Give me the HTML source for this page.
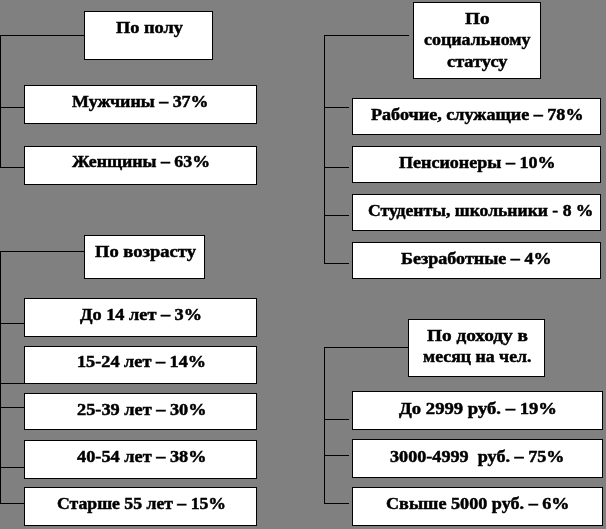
<!DOCTYPE html>
<html><head><meta charset="utf-8"><title>Diagram</title>
<style>
html,body{margin:0;padding:0;}
body{width:606px;height:529px;background:#808080;position:relative;overflow:hidden;font-family:"Liberation Serif",serif;font-weight:bold;font-size:16px;color:#000;}
.b{position:absolute;background:#fff;border:1px solid #000;box-sizing:border-box;}
.l{position:absolute;background:#000;}
.t{position:absolute;white-space:pre;line-height:20px;height:20px;transform-origin:0 15.4px;-webkit-text-stroke:0.45px #000;filter:blur(0.4px);}
</style></head><body>
<div class="l" style="left:0px;top:35px;width:85px;height:1px"></div>
<div class="l" style="left:0px;top:35px;width:1px;height:133px"></div>
<div class="l" style="left:0px;top:107px;width:25px;height:1px"></div>
<div class="l" style="left:0px;top:167px;width:25px;height:1px"></div>
<div class="l" style="left:0px;top:251px;width:85px;height:1px"></div>
<div class="l" style="left:0px;top:251px;width:1px;height:253px"></div>
<div class="l" style="left:0px;top:323px;width:25px;height:1px"></div>
<div class="l" style="left:0px;top:383px;width:25px;height:1px"></div>
<div class="l" style="left:0px;top:407px;width:25px;height:1px"></div>
<div class="l" style="left:0px;top:467px;width:25px;height:1px"></div>
<div class="l" style="left:0px;top:503px;width:25px;height:1px"></div>
<div class="l" style="left:324px;top:35px;width:85px;height:1px"></div>
<div class="l" style="left:324px;top:35px;width:1px;height:229px"></div>
<div class="l" style="left:324px;top:107px;width:25px;height:1px"></div>
<div class="l" style="left:324px;top:167px;width:25px;height:1px"></div>
<div class="l" style="left:324px;top:215px;width:25px;height:1px"></div>
<div class="l" style="left:324px;top:263px;width:25px;height:1px"></div>
<div class="l" style="left:324px;top:347px;width:85px;height:1px"></div>
<div class="l" style="left:324px;top:347px;width:1px;height:157px"></div>
<div class="l" style="left:324px;top:419px;width:25px;height:1px"></div>
<div class="l" style="left:324px;top:455px;width:25px;height:1px"></div>
<div class="l" style="left:324px;top:503px;width:25px;height:1px"></div>
<div class="b" style="left:84px;top:11px;width:129px;height:49px"></div>
<div class="b" style="left:24px;top:85px;width:233px;height:39px"></div>
<div class="b" style="left:24px;top:146px;width:233px;height:39px"></div>
<div class="b" style="left:84px;top:235px;width:121px;height:44px"></div>
<div class="b" style="left:24px;top:298px;width:233px;height:39px"></div>
<div class="b" style="left:24px;top:346px;width:233px;height:38px"></div>
<div class="b" style="left:24px;top:393px;width:233px;height:37px"></div>
<div class="b" style="left:24px;top:440px;width:233px;height:39px"></div>
<div class="b" style="left:24px;top:487px;width:233px;height:39px"></div>
<div class="b" style="left:413px;top:2px;width:128px;height:77px"></div>
<div class="b" style="left:352px;top:98px;width:249px;height:37px"></div>
<div class="b" style="left:352px;top:146px;width:249px;height:37px"></div>
<div class="b" style="left:352px;top:194px;width:249px;height:37px"></div>
<div class="b" style="left:352px;top:242px;width:249px;height:37px"></div>
<div class="b" style="left:408px;top:319px;width:137px;height:58px"></div>
<div class="b" style="left:352px;top:391px;width:251px;height:39px"></div>
<div class="b" style="left:352px;top:439px;width:251px;height:39px"></div>
<div class="b" style="left:352px;top:487px;width:251px;height:39px"></div>
<div class="t" style="left:115.50px;top:17.70px;transform:scale(1.1467,1.090)">По полу</div>
<div class="t" style="left:72.00px;top:91.60px;transform:scale(1.1204,1.090)">Мужчины – 37%</div>
<div class="t" style="left:72.00px;top:152.40px;transform:scale(1.1152,1.090)">Женщины – 63%</div>
<div class="t" style="left:94.50px;top:241.90px;transform:scale(1.1601,1.090)">По возрасту</div>
<div class="t" style="left:80.00px;top:305.30px;transform:scale(1.1408,1.090)">До 14 лет – 3%</div>
<div class="t" style="left:77.48px;top:351.60px;transform:scale(1.1392,1.090)">15-24 лет – 14%</div>
<div class="t" style="left:76.50px;top:399.60px;transform:scale(1.1435,1.090)">25-39 лет – 30%</div>
<div class="t" style="left:76.50px;top:447.30px;transform:scale(1.1435,1.090)">40-54 лет – 38%</div>
<div class="t" style="left:56.50px;top:493.60px;transform:scale(1.1058,1.090)">Старше 55 лет – 15%</div>
<div class="t" style="left:465.00px;top:8.50px;transform:scale(1.1998,1.090)">По</div>
<div class="t" style="left:424.00px;top:30.30px;transform:scale(1.1218,1.090)">социальному</div>
<div class="t" style="left:447.00px;top:51.90px;transform:scale(1.1460,1.090)">статусу</div>
<div class="t" style="left:371.00px;top:104.50px;transform:scale(1.1316,1.090)">Рабочие, служащие – 78%</div>
<div class="t" style="left:398.50px;top:152.80px;transform:scale(1.1276,1.090)">Пенсионеры – 10%</div>
<div class="t" style="left:367.50px;top:201.00px;transform:scale(1.1016,1.090)">Студенты, школьники - 8 %</div>
<div class="t" style="left:401.00px;top:248.50px;transform:scale(1.1294,1.090)">Безработные – 4%</div>
<div class="t" style="left:427.00px;top:325.60px;transform:scale(1.2051,1.090)">По доходу в</div>
<div class="t" style="left:423.00px;top:347.30px;transform:scale(1.1128,1.090)">месяц на чел.</div>
<div class="t" style="left:398.50px;top:398.70px;transform:scale(1.1663,1.090)">До 2999 руб. – 19%</div>
<div class="t" style="left:390.00px;top:446.50px;transform:scale(1.1346,1.090)">3000-4999  руб. – 75%</div>
<div class="t" style="left:386.00px;top:494.30px;transform:scale(1.1343,1.090)">Свыше 5000 руб. – 6%</div>
</body></html>
